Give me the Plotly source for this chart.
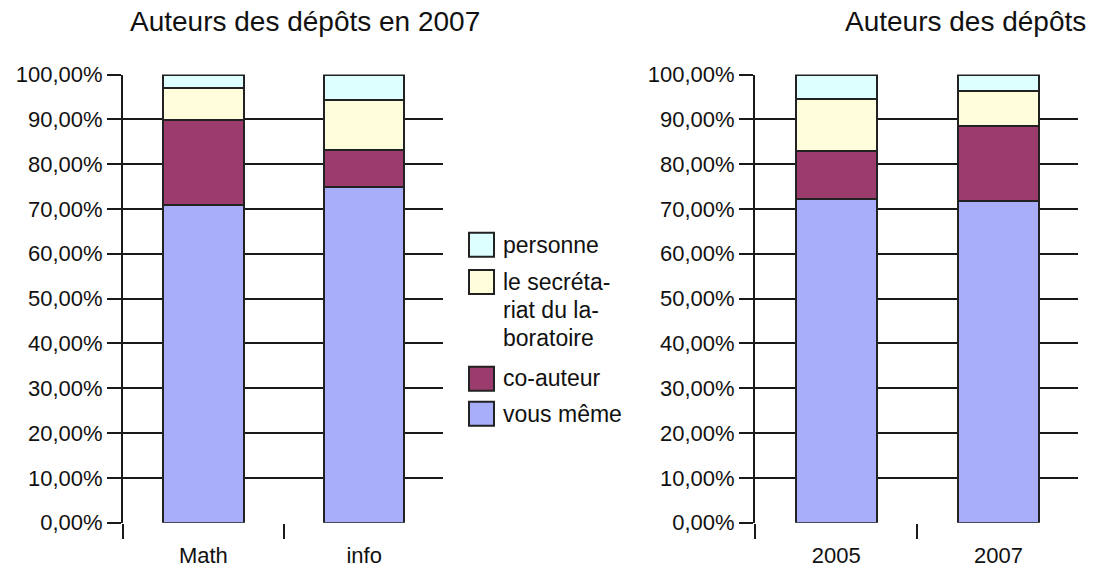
import plotly.graph_objects as go

W, H = 1097, 570

# Data (percent)
cat_left = ["Math", "info"]
cat_right = ["2005", "2007"]
series_names = ["vous même", "co-auteur", "le secrétariat du laboratoire", "personne"]
left_vous = [70.9, 74.9]
left_coauteur = [19.0, 8.3]
left_secretariat = [7.1, 11.1]
left_personne = [3.0, 5.7]
right_vous = [72.2, 71.7]
right_coauteur = [10.7, 16.7]
right_secretariat = [11.6, 8.0]
right_personne = [5.5, 3.6]
y_ticks = [0, 10, 20, 30, 40, 50, 60, 70, 80, 90, 100]
y_ticktext = [f"{v:.2f}".replace(".", ",") + "%" for v in y_ticks]

colors = ["#A8AEFA", "#9B3B6E", "#FFFDDC", "#DDFFFF"]
FONT = "Liberation Sans, Arial, Helvetica, sans-serif"

# page body has an 8px margin
OFF = 8

def px(x):
    return (x - OFF) / W

def py(y):
    return 1 - (y - OFF) / H

fig = go.Figure()
left_series = [left_vous, left_coauteur, left_secretariat, left_personne]
right_series = [right_vous, right_coauteur, right_secretariat, right_personne]
for name, vals, c in zip(series_names, left_series, colors):
    fig.add_trace(go.Bar(x=cat_left, y=vals, name=name, marker=dict(color=c, line=dict(color="#222222", width=2)),
                         xaxis="x", yaxis="y", showlegend=False))
for name, vals, c in zip(series_names, right_series, colors):
    fig.add_trace(go.Bar(x=cat_right, y=vals, name=name, marker=dict(color=c, line=dict(color="#222222", width=2)),
                         xaxis="x2", yaxis="y2", showlegend=False))

ydom = [py(522.7), py(74.5)]
yax = dict(range=[0, 100], tickvals=y_ticks, ticktext=y_ticktext,
           showgrid=True, gridcolor="#1a1a1a", gridwidth=2, showline=True, linecolor="#1a1a1a", linewidth=2,
           ticks="outside", ticklen=14, tickwidth=2, tickcolor="#1a1a1a", zeroline=False,
           tickfont=dict(family=FONT, size=22, color="#111"), domain=ydom, fixedrange=True, automargin=False)
xax = dict(type="category", tickson="boundaries", ticks="outside", ticklen=15, tickwidth=2, tickcolor="#1a1a1a",
           showline=False, showgrid=False, tickfont=dict(family=FONT, size=22, color="#111"), fixedrange=True,
           ticklabelstandoff=17, automargin=False, range=[-0.5, 1.49])

fig.update_layout(
    width=W, height=H, margin=dict(l=0, r=0, t=0, b=0),
    paper_bgcolor="white", plot_bgcolor="white",
    barmode="stack", bargap=0.5,
    xaxis=dict(xax, domain=[px(123), px(443)], anchor="y"),
    yaxis=dict(yax, anchor="x"),
    xaxis2=dict(xax, domain=[px(755), px(1078)], anchor="y2"),
    yaxis2=dict(yax, anchor="x2"),
)

annotations = [
    dict(text="Auteurs des dépôts en 2007", x=px(305), y=py(22), xanchor="center", yanchor="middle",
         font=dict(family=FONT, size=28, color="#111")),
    dict(text="Auteurs des dépôts", x=px(843), y=py(22), xanchor="left", yanchor="middle",
         font=dict(family=FONT, size=28, color="#111")),
]
shapes = []
legend_items = [
    (colors[3], 232.7, [("personne", 245)]),
    (colors[2], 270, [("le secréta-", 282), ("riat du la-", 310), ("boratoire", 338)]),
    (colors[1], 366.7, [("co-auteur", 378)]),
    (colors[0], 401.7, [("vous même", 414)]),
]
for col, ytop, lines in legend_items:
    shapes.append(dict(type="rect", xref="paper", yref="paper", x0=px(469), x1=px(494), y0=py(ytop), y1=py(ytop + 24),
                       fillcolor=col, line=dict(color="#222222", width=2)))
    for txt, yc in lines:
        annotations.append(dict(text=txt, x=px(501), y=py(yc), xanchor="left", yanchor="middle",
                                font=dict(family=FONT, size=23, color="#111")))

for a in annotations:
    a.update(xref="paper", yref="paper", showarrow=False)
fig.update_layout(annotations=annotations, shapes=shapes)

fig.write_html("out.html")
